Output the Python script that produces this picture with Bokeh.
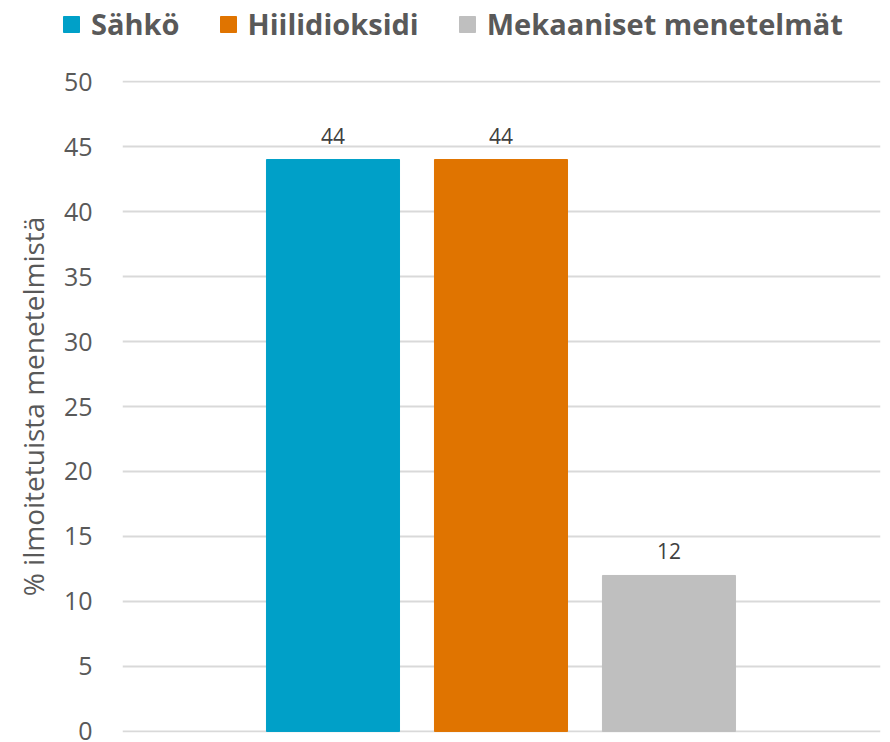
from bokeh.plotting import figure
from bokeh.layouts import column
from bokeh.models import ColumnDataSource, Range1d, Legend, LegendItem, LabelSet, SingleIntervalTicker
from bokeh.core.properties import value
from bokeh.embed import file_html
from bokeh.resources import INLINE

series = ["Sähkö", "Hiilidioksidi", "Mekaaniset menetelmät"]
values = [44, 44, 12]
colors = ["#00A0C8", "#E07400", "#BFBFBF"]
y_title = "% ilmoitetuista menetelmistä"

xs = list(range(len(series)))
src = ColumnDataSource(dict(x=xs, top=values, series=series, color=colors,
                            label=[str(v) for v in values]))

FONT = "Open Sans"

# legend strip (its bars lie outside its view; only the legend shows)
lg = figure(width=882, height=50, output_backend="svg", toolbar_location=None,
            x_range=Range1d(0, 1), y_range=Range1d(1000, 1001),
            min_border_left=0, min_border_right=0, min_border_top=0, min_border_bottom=0)
lg.frame_align = False
lg.axis.visible = False
lg.grid.visible = False
lg.outline_line_color = None
lr = lg.vbar(x="x", top="top", width=0.5, color="color", source=src)
items = [LegendItem(label=s, renderers=[lr], index=i) for i, s in enumerate(series)]
legend = Legend(items=items, orientation="horizontal", location=(61, 7),
                label_text_font=FONT, label_text_font_size="29px",
                label_text_font_style="bold", label_text_color="#595959",
                glyph_width=20, glyph_height=20, spacing=38, label_standoff=10,
                padding=0, margin=0, border_line_color=None, background_fill_alpha=0)
lg.add_layout(legend)

p = figure(frame_width=758, frame_height=652, output_backend="svg", toolbar_location=None,
           x_range=Range1d(-1.253, 3.259), y_range=Range1d(-0.08, 50.08),
           min_border_left=122, min_border_right=2, min_border_top=30, min_border_bottom=8)
p.outline_line_color = None
r = p.vbar(x="x", top="top", width=0.792, color="color", source=src)

labels = LabelSet(x="x", y="top", text="label", source=src, text_align="center",
                  text_baseline="bottom", y_offset=16, text_font=value(FONT),
                  text_font_size=value("21px"), text_color=value("#404040"))
p.add_layout(labels)

p.xaxis.visible = False
p.xgrid.visible = False
p.yaxis.ticker = SingleIntervalTicker(interval=5)
p.ygrid.grid_line_color = "#D9D9D9"
p.ygrid.grid_line_width = 2
p.yaxis.axis_line_color = None
p.yaxis.major_tick_line_color = None
p.yaxis.minor_tick_line_color = None
p.yaxis.major_label_text_font = FONT
p.yaxis.major_label_text_font_size = "25px"
p.yaxis.major_label_text_color = "#595959"
p.yaxis.major_label_standoff = 24
p.yaxis.axis_label = y_title
p.yaxis.axis_label_text_font = FONT
p.yaxis.axis_label_text_font_size = "28px"
p.yaxis.axis_label_text_font_style = "normal"
p.yaxis.axis_label_text_color = "#595959"
p.yaxis.axis_label_standoff = 9

layout = column(lg, p, spacing=0)
open("out.html", "w").write(file_html(layout, INLINE))
